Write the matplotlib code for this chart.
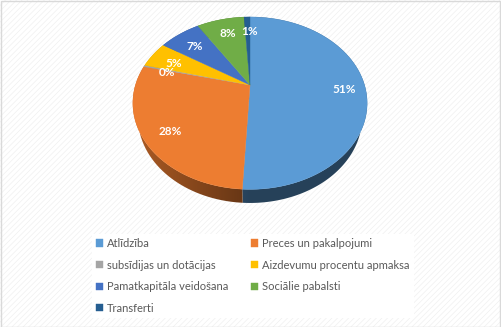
import numpy as np
import matplotlib.pyplot as plt
from matplotlib.patches import Polygon, Rectangle
from matplotlib.colors import to_rgb

# --- budžeta izdevumu struktūra ---
labels = ["Atlīdzība", "Preces un pakalpojumi", "subsīdijas un dotācijas",
          "Aizdevumu procentu apmaksa", "Pamatkapitāla veidošana",
          "Sociālie pabalsti", "Transferti"]
values = [51, 28, 0.3, 5, 7, 8, 1]
colors = ["#5B9BD5", "#ED7D31", "#A5A5A5", "#FFC000", "#4472C4", "#70AD47", "#255E91"]

W, H = 501, 327
CX, CY = 250, 85        # pie apex on canvas (px)
SCALE = 114.5
ELEV = np.radians(46)
DIST = 3.3
THICK = 0.2
LABEL_R = 0.8


def project(x, y, z):
    s, c = np.sin(ELEV), np.cos(ELEV)
    up = y * s + z * c
    depth = y * c - z * s
    f = DIST / (DIST + depth)
    return CX + SCALE * x * f, CY - SCALE * up * f, depth


plt.rcParams['hatch.linewidth'] = 0.5
fig = plt.figure(figsize=(W / 100, H / 100), dpi=100)
ax = fig.add_axes([0, 0, 1, 1])
ax.set_xlim(0, W)
ax.set_ylim(H, 0)
ax.axis('off')

# textured background + frame
ax.add_patch(Rectangle((0, 0), W, H, facecolor='white', edgecolor='#f0f0f0',
                       hatch='//////', linewidth=0, zorder=0))
ax.add_patch(Rectangle((0.5, 0.5), W - 1, H - 1, fill=False,
                       edgecolor='#d9d9d9', linewidth=1, zorder=10))

total = sum(values)
fracs = np.array(values) / total
cum = np.concatenate([[0], np.cumsum(fracs)])
starts = 90 - 360 * cum[:-1]
ends = 90 - 360 * cum[1:]

# side walls: one band per slice, filled with a horizontal light gradient
gx = np.linspace(CX - SCALE * 1.05, CX + SCALE * 1.05, 300)
cos_x = np.clip((gx - CX) / SCALE, -1, 1)
shade = 0.42 + 0.3 * np.clip(-cos_x, 0, None)
y0, y1 = CY - SCALE * 0.7, CY + SCALE * 1.15

handles = []
for i, col in enumerate(colors):
    n = max(2, int(abs(ends[i] - starts[i]) * 2))
    th = np.radians(np.linspace(starts[i], ends[i], n))
    base = np.array(to_rgb(col))

    tx, ty, _ = project(np.cos(th), np.sin(th), np.zeros_like(th))
    bx, by, _ = project(np.cos(th), np.sin(th), np.full_like(th, -THICK))
    band = np.vstack([np.column_stack([tx, ty]),
                      np.column_stack([bx, by])[::-1]])
    wall = Polygon(band, closed=True, facecolor='none', edgecolor='none')
    ax.add_patch(wall)
    grad = (shade[:, None] * base[None, :])[None, :, :]
    im = ax.imshow(grad, extent=(gx[0], gx[-1], y1, y0), aspect='auto',
                   interpolation='bilinear', zorder=2)
    im.set_clip_path(wall)

    # top face
    pts = np.vstack([[CX, CY], np.column_stack([tx, ty])])
    p = Polygon(pts, closed=True, facecolor=col, edgecolor=col,
                linewidth=0.3, zorder=3)
    ax.add_patch(p)
    handles.append(p)

    mid = np.radians((starts[i] + ends[i]) / 2)
    lx, ly, _ = project(LABEL_R * np.cos(mid), LABEL_R * np.sin(mid), 0)
    ax.text(lx + 2, ly + 3, f"{fracs[i] * 100:.0f}%", color='white', fontsize=8.5,
            fontweight='bold', family='Lato', ha='center', va='center', zorder=5)

ax.set_xlim(0, W)
ax.set_ylim(H, 0)

# Excel-style legend: fill rows first
order = [0, 2, 4, 6, 1, 3, 5]
leg = ax.legend([handles[k] for k in order], [labels[k] for k in order],
                ncol=2, loc='upper left', bbox_to_anchor=(86 / W, 1 - 228 / H),
                prop={'family': 'Lato', 'size': 8}, labelcolor='#595959',
                frameon=True, fancybox=False, edgecolor='none', facecolor='white',
                framealpha=1, handlelength=0.65, handleheight=0.65,
                handletextpad=0.3, labelspacing=0.95, columnspacing=2.1,
                borderpad=0.4)
leg.set_zorder(6)

fig.savefig('out.png', dpi=100)
